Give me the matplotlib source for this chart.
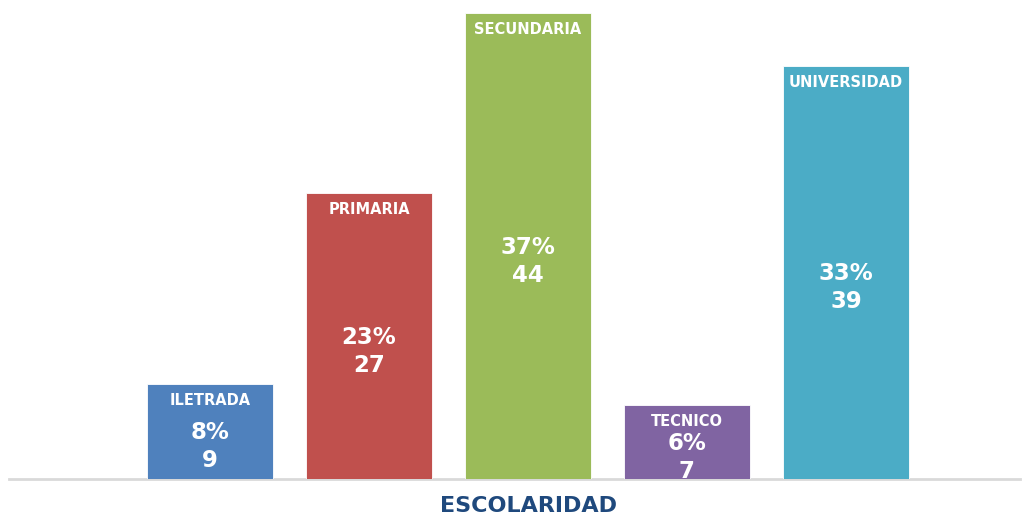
import matplotlib
matplotlib.use("Agg")
import matplotlib.pyplot as plt

categories = ["ILETRADA", "PRIMARIA", "SECUNDARIA", "TECNICO", "UNIVERSIDAD"]
counts = [9, 27, 44, 7, 39]
percents = ["8%", "23%", "37%", "6%", "33%"]
colors = ["#4F81BD", "#C0504D", "#9BBB59", "#8064A2", "#4BACC6"]
axis_title = "ESCOLARIDAD"

W, H = 1026, 516
fig = plt.figure(figsize=(W / 100, H / 100), dpi=100)
ax = fig.add_axes([0, (H - 479) / H, 1, 479 / H])

x = list(range(len(categories)))
ax.bar(x, counts, width=0.79, color=colors, edgecolor="white", linewidth=0.6, zorder=2)

ax.set_xlim(-210 / 159, (W - 210) / 159)
ax.set_ylim(0, 44 + 13 / 10.57)
ax.axis("off")
ax.axhline(0, xmin=9 / W, xmax=1020 / W, color="#D9D9D9", linewidth=2, zorder=1, clip_on=False)

font = "DejaVu Sans"
for xi, c, p, name in zip(x, counts, percents, categories):
    ax.annotate(name, (xi, c), xytext=(0, -12), textcoords="offset points",
                ha="center", va="center", color="white", fontsize=10.5,
                fontweight="bold", family=font, zorder=3)
    ax.annotate(p, (xi, c / 2), xytext=(0, -1), textcoords="offset points",
                ha="center", va="center", color="white", fontsize=16.5,
                fontweight="bold", family=font, zorder=3)
    ax.annotate(str(c), (xi, c / 2), xytext=(0, -21), textcoords="offset points",
                ha="center", va="center", color="white", fontsize=16.5,
                fontweight="bold", family=font, zorder=3)

fig.text(528 / W, 1 - 512 / H, axis_title, ha="center", va="baseline",
         color="#1F497D", fontsize=16, fontweight="bold", family=font)

fig.savefig("out.png", dpi=100)
